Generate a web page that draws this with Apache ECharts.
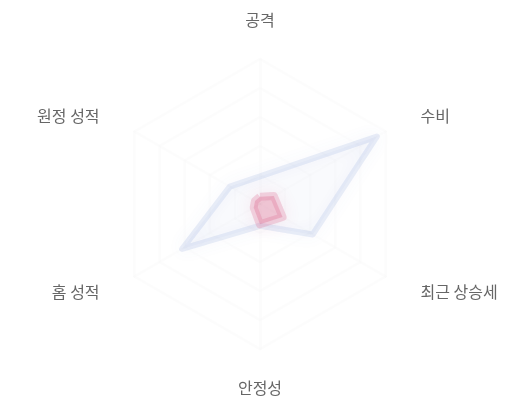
<!DOCTYPE html>
<html>
<head>
<meta charset="utf-8">
<script src="https://cdn.jsdelivr.net/npm/echarts@6/dist/echarts.min.js"></script>
<style>
  html, body { margin: 0; padding: 0; background: #fff; }
  #main { width: 520px; height: 400px; }
</style>
</head>
<body>
<div id="main"></div>
<script>
const myChart = echarts.init(document.getElementById('main'));

// indicators go counter-clockwise from the top
const indicatorNames = ['공격', '원정 성적', '홈 성적', '안정성', '최근 상승세', '수비'];
const maxValue = 100;
const blueValues = [19, 24, 62, 15, 42, 93];
const redValues = [5, 4, 5, 14, 18, 11];

myChart.setOption({
  radar: {
    center: ['50%', '51%'],
    radius: 145,
    nameGap: 31,
    splitNumber: 5,
    indicator: indicatorNames.map((name) => ({ name: name, max: maxValue })),
    axisName: {
      color: '#666',
      fontSize: 16,
      fontFamily: 'Noto Sans CJK KR',
      padding: [0, 8],
    },
    splitLine: {
      lineStyle: {
        color: 'rgba(0, 0, 0, 0.012)',
        width: 3,
        shadowBlur: 10,
        shadowColor: 'rgba(0, 0, 0, 0.04)',
      },
    },
    axisLine: {
      lineStyle: {
        color: 'rgba(0, 0, 0, 0.01)',
        width: 3,
      },
    },
    splitArea: { show: false },
  },
  series: [
    {
      type: 'radar',
      symbol: 'none',
      data: [
        {
          value: blueValues,
          lineStyle: {
            color: 'rgba(84, 112, 198, 0.12)',
            width: 6,
            shadowBlur: 16,
            shadowColor: 'rgba(84, 112, 198, 0.5)',
          },
          areaStyle: { color: 'rgba(84, 112, 198, 0.05)' },
        },
        {
          value: redValues,
          lineStyle: {
            color: 'rgba(220, 100, 140, 0.25)',
            width: 8,
            shadowBlur: 16,
            shadowColor: 'rgba(220, 90, 130, 0.5)',
          },
          areaStyle: { color: 'rgba(220, 100, 140, 0.45)' },
        },
      ],
    },
  ],
});
</script>
</body>
</html>
